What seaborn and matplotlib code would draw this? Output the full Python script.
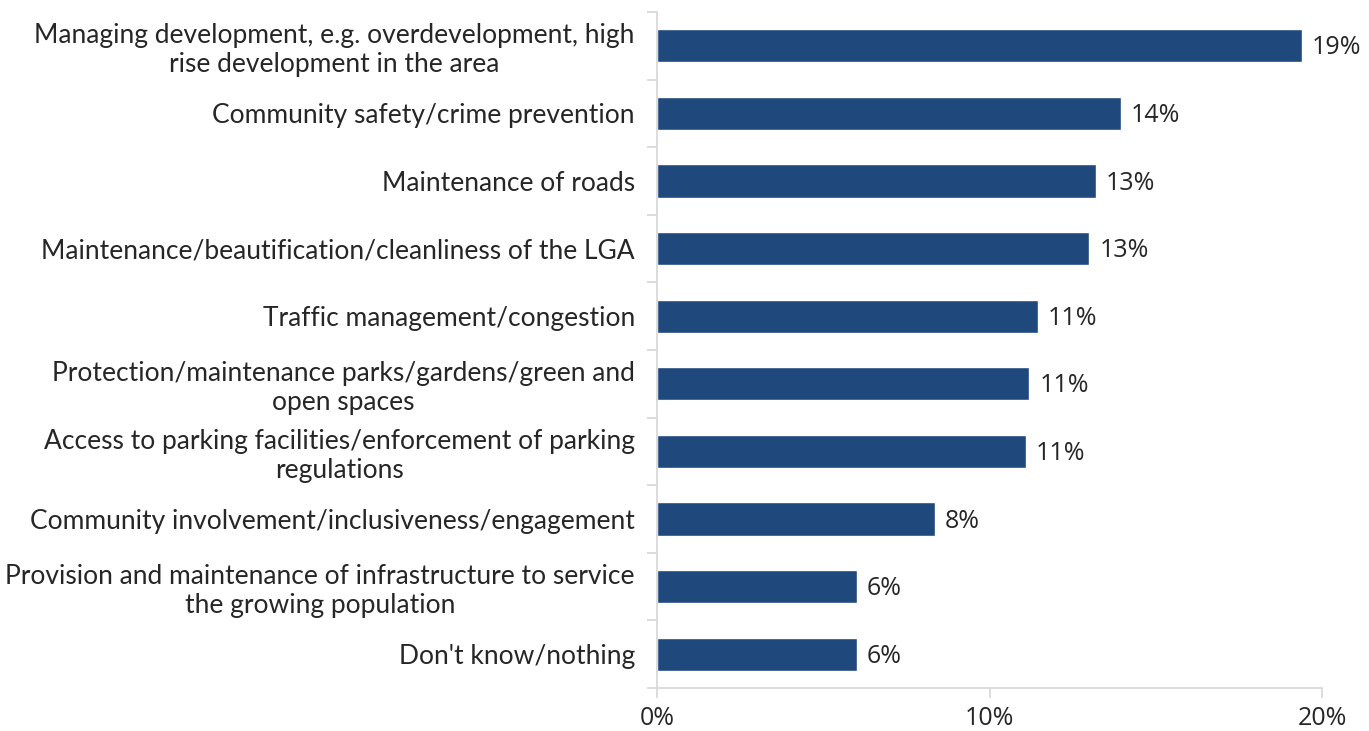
import matplotlib
matplotlib.use("Agg")
import matplotlib.pyplot as plt
import seaborn as sns
import pandas as pd
import numpy as np

categories = [
    "Managing development, e.g. overdevelopment, high\nrise development in the area",
    "Community safety/crime prevention",
    "Maintenance of roads",
    "Maintenance/beautification/cleanliness of the LGA",
    "Traffic management/congestion",
    "Protection/maintenance parks/gardens/green and\nopen spaces",
    "Access to parking facilities/enforcement of parking\nregulations",
    "Community involvement/inclusiveness/engagement",
    "Provision and maintenance of infrastructure to service\nthe growing population",
    "Don't know/nothing",
]
shares = [19.4, 13.95, 13.2, 13.0, 11.45, 11.2, 11.1, 8.35, 6.0, 6.0]
x_ticks = [0, 10, 20]
x_tick_labels = ["0%", "10%", "20%"]

df = pd.DataFrame({"category": categories, "share": shares})

sns.set_theme(style="white")
plt.rcParams["font.family"] = ["Lato", "DejaVu Sans"]

bar_color = "#1F497D"
text_color = "#262626"
axis_color = "#D9D9D9"

fig = plt.figure(figsize=(13.69, 7.31), dpi=100)
ax = fig.add_axes([0.4799, 0.0588, 0.4858, 0.9248])

sns.barplot(data=df, x="share", y="category", color=bar_color, width=0.49,
            saturation=1, ax=ax, orient="h")

ax.set_xlim(0, 20)
ax.set_ylim(len(categories) - 0.5, -0.5)
ax.set_xlabel("")
ax.set_ylabel("")

ax.set_xticks(x_ticks)
ax.set_xticklabels(x_tick_labels, fontsize=18, color=text_color,
                   family=["Open Sans", "DejaVu Sans"])
ax.tick_params(axis="x", direction="out", length=7, width=1.3, color=axis_color,
               pad=6, bottom=True)

# category labels on major ticks, boundary marks on minor ticks
ax.set_yticks(range(len(categories)))
ax.set_yticklabels(categories, fontsize=19, color=text_color, linespacing=1.2,
                   multialignment="center")
ax.tick_params(axis="y", which="major", length=0, pad=16)
ax.set_yticks(np.arange(-0.5, len(categories), 1.0), minor=True)
ax.tick_params(axis="y", which="minor", direction="out", length=7, width=1.3,
               color=axis_color, left=True)

for side in ["top", "right"]:
    ax.spines[side].set_visible(False)
for side in ["left", "bottom"]:
    ax.spines[side].set_color(axis_color)
    ax.spines[side].set_linewidth(1.3)

for i, v in enumerate(shares):
    ax.text(v + 0.3, i + 0.03, f"{v:.0f}%", va="center", ha="left",
            fontsize=18, color=text_color, family=["Open Sans", "DejaVu Sans"])

fig.savefig("out.png", dpi=100)
